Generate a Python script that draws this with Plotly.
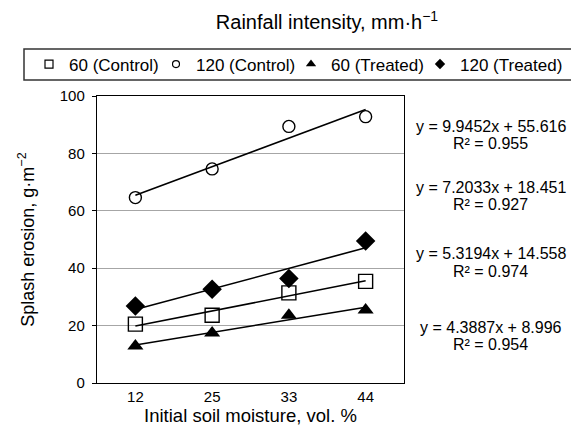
import numpy as np
import plotly.graph_objects as go

# ---- data ----
moisture_labels = ["12", "25", "33", "44"]
positions = [1, 2, 3, 4]
control_60 = [20.5, 23.6, 31.4, 35.4]
control_120 = [64.6, 74.6, 89.4, 92.8]
treated_60 = [12.9, 17.4, 23.6, 25.4]
treated_120 = [26.8, 32.7, 36.4, 49.5]
eq_lines = [
    "y = 9.9452x + 55.616",
    "y = 7.2033x + 18.451",
    "y = 5.3194x + 14.558",
    "y = 4.3887x + 8.996",
]
r2_lines = ["R² = 0.955", "R² = 0.927", "R² = 0.974", "R² = 0.954"]
series_names = ["60 (Control)", "120 (Control)", "60 (Treated)", "120 (Treated)"]

FONT = "Liberation Sans, Arial, sans-serif"

# the page body adds an 8px offset; layout is designed in figure pixels
OFF = 8
W, H = 579 - OFF, 432 - OFF
L, R, T, B = 97 - OFF, 404 - OFF, 96 - OFF, 383 - OFF
pw, ph = R - L, B - T

def px_x(x):
    return (x - OFF - L) / pw

def px_y(y):
    return (B - (y - OFF)) / ph

values = [control_60, control_120, treated_60, treated_120]
plot_markers = [
    dict(symbol="square-open", size=14, color="black", line=dict(width=1.4, color="black")),
    dict(symbol="circle-open", size=12, color="black", line=dict(width=1.4, color="black")),
    dict(symbol="triangle-up", size=14, color="black"),
    dict(symbol="diamond", size=15, color="black"),
]
legend_markers = [
    dict(symbol="square-open", size=8, color="black", line=dict(width=1.2, color="black")),
    dict(symbol="circle-open", size=7, color="black", line=dict(width=1.2, color="black")),
    dict(symbol="triangle-up", size=9, color="black"),
    dict(symbol="diamond", size=8, color="black"),
]
legend_ids = ["legend", "legend2", "legend3", "legend4"]
legend_left = [29, 156, 291, 420]  # viewport px

fig = go.Figure()
for vals in values:
    slope, icpt = np.polyfit(positions, vals, 1)
    xs = np.array([positions[0], positions[-1]])
    fig.add_trace(go.Scatter(x=xs, y=slope * xs + icpt, mode="lines",
                             line=dict(color="black", width=1.6),
                             showlegend=False, hoverinfo="skip"))
for vals, mk in zip(values, plot_markers):
    fig.add_trace(go.Scatter(x=positions, y=vals, mode="markers", marker=mk,
                             showlegend=False, cliponaxis=False))
for name, mk, lid in zip(series_names, legend_markers, legend_ids):
    fig.add_trace(go.Scatter(x=[None], y=[None], mode="markers", name=name, marker=mk,
                             legend=lid, showlegend=True))

# legend box
fig.add_shape(type="rect", xref="paper", yref="paper",
              x0=px_x(24), x1=px_x(620), y0=px_y(80), y1=px_y(49),
              line=dict(color="#333333", width=1.5), fillcolor="rgba(0,0,0,0)")

eq_centers = [126, 187, 254, 327]
for eq, r2, cy in zip(eq_lines, r2_lines, eq_centers):
    fig.add_annotation(text=eq, xref="paper", yref="paper", x=px_x(491), y=px_y(cy),
                       xanchor="center", yanchor="middle", showarrow=False,
                       font=dict(family=FONT, size=16, color="black"))
    fig.add_annotation(text=r2, xref="paper", yref="paper", x=px_x(491), y=px_y(cy + 17.5),
                       xanchor="center", yanchor="middle", showarrow=False,
                       font=dict(family=FONT, size=16, color="black"))

legend_common = dict(orientation="h", xref="container", yref="container",
                     yanchor="middle", xanchor="left", bgcolor="rgba(0,0,0,0)",
                     font=dict(family=FONT, size=17, color="black"), itemwidth=30)
legends = {}
for lid, lx in zip(legend_ids, legend_left):
    legends[lid] = dict(legend_common, x=(lx - OFF) / W, y=1 - (64.5 - OFF) / H)

fig.update_layout(
    width=W, height=H,
    margin=dict(l=L, r=W - R, t=T, b=H - B, pad=0, autoexpand=False),
    paper_bgcolor="white", plot_bgcolor="white",
    font=dict(family=FONT, size=15, color="black"),
    title=dict(text="Rainfall intensity, mm·h<sup>−1</sup>", x=(327 - OFF) / W, y=1 - (22 - OFF) / H,
               xanchor="center", yanchor="middle", xref="container", yref="container",
               font=dict(family=FONT, size=20, color="black")),
    showlegend=True,
    **legends,
)
fig.update_xaxes(range=[0.5, 4.5], tickvals=positions, ticktext=moisture_labels,
                 showgrid=False, zeroline=False, showline=True, linecolor="black", linewidth=1.4,
                 mirror=True, ticks="", tickfont=dict(size=15), automargin=False,
                 title=dict(text="Initial soil moisture, vol. %", font=dict(size=18.5), standoff=2))
fig.update_yaxes(range=[0, 100], dtick=20, showgrid=True, gridcolor="#a6a6a6", gridwidth=1,
                 zeroline=False, showline=True, linecolor="black", linewidth=1.4, mirror=True,
                 ticks="outside", ticklen=4, tickcolor="black", tickfont=dict(size=15),
                 ticklabelstandoff=4, automargin=False,
                 title=dict(text="Splash erosion, g·m<sup>−2</sup>", font=dict(size=18), standoff=20))

fig.write_html("out.html")
